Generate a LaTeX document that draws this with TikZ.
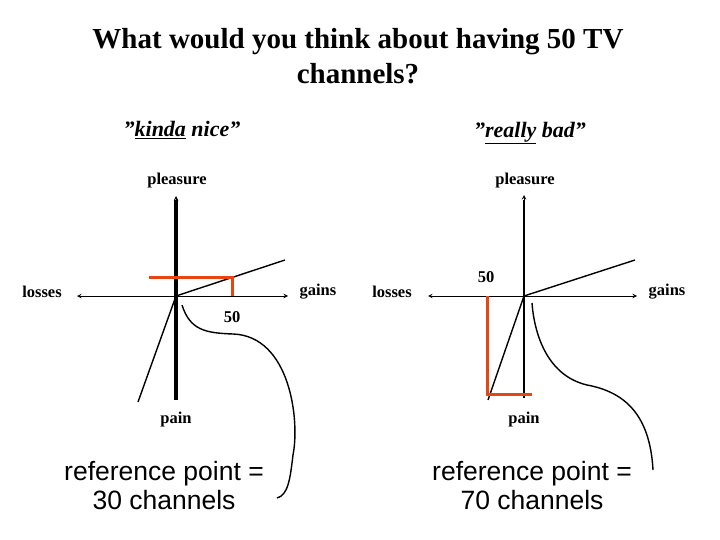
\documentclass[tikz,border=0pt]{standalone}
\usepackage{fontspec}
\setmainfont{Liberation Serif}
\newfontfamily\arialf{Liberation Sans}
\tikzset{
 lbl/.style={font=\bfseries\fontsize{16.5}{18}\selectfont, inner sep=0pt},
 ref/.style={font=\arialf\fontsize{26.5}{29}\selectfont, inner sep=0pt, align=center},
 ttl/.style={font=\bfseries\itshape\fontsize{22}{24}\selectfont, inner sep=0pt},
 axis/.style={line width=1pt, <->, >=stealth},
 curveline/.style={line width=1.4pt},
 redl/.style={draw={rgb,255:red,230;green,70;blue,20}, line width=3pt}
}
\begin{document}
\begin{tikzpicture}[x=1pt,y=-1pt]
\useasboundingbox (0,0) rectangle (720,540);
\node[font=\bfseries\fontsize{29}{35}\selectfont, align=center] (title) at (358,56) {What would you think about having 50 TV\\channels?};
% left
\coordinate (o1) at (176,296);
\node[ttl] (t1) at (182,130) {\symbol{34}\underline{kinda} nice\symbol{34}};
\node[lbl] (pl1) at (177,181) {pleasure};
\node[lbl] (pa1) at (176,420) {pain};
\node[lbl] (lo1) at (42,292) {losses};
\node[lbl] (ga1) at (318,292) {gains};
\coordinate (vt1) at (176,196); \coordinate (vb1) at (176,400);
\draw[line width=3.5pt] (176,200) -- (vb1);
\draw[->,>=stealth,line width=1pt] (176,220) -- (vt1);
\draw[axis] (77,296) -- (288,296);
\coordinate (g1) at (285,260); \coordinate (l1) at (138,402);
\draw[curveline] (l1) -- (o1) -- (g1);
\draw[redl] (149,277) -- (232,277) -- (232,296);
\node[lbl] (n1) at (232,317) {50};
\draw[curveline] (182,305) .. controls (190,330) and (205,333) .. (233,334) .. controls (290,336) and (300,420) .. (293,455) .. controls (290,480) and (288,495) .. (277,498);
\node[ref] (r1) at (164,486) {reference point =\\30 channels};
% right
\coordinate (o2) at (524,296);
\node[ttl] (t2) at (530,133) {\symbol{34}\underline{really} bad\symbol{34}};
\node[lbl] (pl2) at (525,181) {pleasure};
\node[lbl] (pa2) at (524,420) {pain};
\node[lbl] (lo2) at (392,292) {losses};
\node[lbl] (ga2) at (667,292) {gains};
\draw[line width=2.4pt] (524,200) -- (524,398);
\draw[->,>=stealth,line width=1pt] (524,220) -- (524,195);
\draw[axis] (428,296) -- (637,296);
\draw[curveline] (488,400) -- (o2) -- (635,260);
\draw[redl] (487,296) -- (487,394) -- (532,394);
\node[lbl] (n2) at (486,277) {50};
\draw[curveline] (532,303) .. controls (534,330) and (545,375) .. (587,385) .. controls (625,392) and (650,415) .. (653,470);
\node[ref] (r2) at (532,486) {reference point =\\70 channels};
\end{tikzpicture}
\end{document}
